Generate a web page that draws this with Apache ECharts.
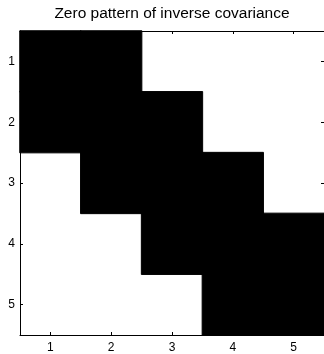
<!DOCTYPE html>
<html>
<head>
<meta charset="utf-8">
<script src="https://cdn.jsdelivr.net/npm/echarts@6/dist/echarts.min.js"></script>
<style>
  html, body { margin: 0; padding: 0; background: #fff; }
  #chart { width: 324px; height: 354px; }
</style>
</head>
<body>
<div id="chart"></div>
<script>
// Row/column labels of the 5x5 matrix
var rowLabels = ['1', '2', '3', '4', '5'];
var colLabels = ['1', '2', '3', '4', '5'];
// Nonzero pattern (1 = nonzero entry, 0 = zero entry), one array per row
var row1 = [1, 1, 0, 0, 0];
var row2 = [1, 1, 1, 0, 0];
var row3 = [0, 1, 1, 1, 0];
var row4 = [0, 0, 1, 1, 1];
var row5 = [0, 0, 0, 1, 1];
var titleText = 'Zero pattern of inverse covariance';

// Only nonzero entries are painted (black); zero entries stay as white background
var rows = [row1, row2, row3, row4, row5];
var cells = [];
rows.forEach(function (r, i) {
  r.forEach(function (v, j) {
    if (v !== 0) cells.push([j, i, v]);
  });
});

var FONT = 'Liberation Sans, Arial, sans-serif';
var axisLine = { show: true, lineStyle: { color: '#000', width: 1 } };
var tickIn = { show: true, inside: true, alignWithLabel: true, length: 3, lineStyle: { color: '#000', width: 1 } };

var chart = echarts.init(document.getElementById('chart'), null, { renderer: 'canvas' });
chart.setOption({
  animation: false,
  backgroundColor: '#fff',
  title: {
    text: titleText,
    left: 172, top: 6, padding: 0, textAlign: 'center',
    textStyle: { fontFamily: FONT, fontSize: 15.5, fontWeight: 'normal', color: '#000' }
  },
  grid: { left: 20, top: 31, width: 304, height: 304 },
  xAxis: [
    { type: 'category', data: colLabels, position: 'bottom', axisLine: axisLine, axisTick: tickIn,
      axisLabel: { color: '#000', fontFamily: FONT, fontSize: 12, margin: 7 }, splitLine: { show: false } },
    { type: 'category', data: colLabels, position: 'top', axisLine: axisLine, axisTick: tickIn,
      axisLabel: { show: false }, splitLine: { show: false } }
  ],
  yAxis: [
    { type: 'category', data: rowLabels, inverse: true, position: 'left', axisLine: axisLine, axisTick: tickIn,
      axisLabel: { color: '#000', fontFamily: FONT, fontSize: 12, margin: 5 }, splitLine: { show: false } },
    { type: 'category', data: rowLabels, inverse: true, position: 'right', axisLine: axisLine, axisTick: tickIn,
      axisLabel: { show: false }, splitLine: { show: false } }
  ],
  series: [{
    type: 'heatmap',
    xAxisIndex: 0, yAxisIndex: 0,
    data: cells,
    itemStyle: { color: '#000', borderColor: '#000', borderWidth: 1 },
    z: 1
  }]
});
</script>
</body>
</html>
